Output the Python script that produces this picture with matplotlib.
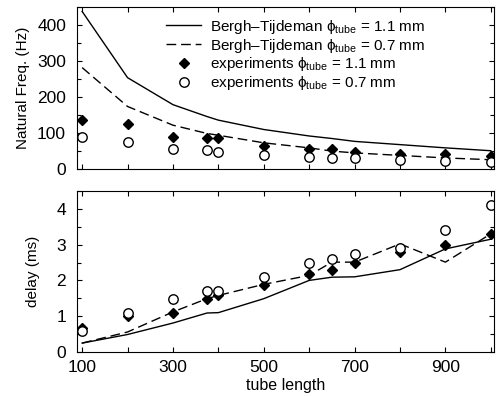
import matplotlib
matplotlib.use("Agg")
import matplotlib.pyplot as plt
from matplotlib.ticker import MultipleLocator
from matplotlib.legend_handler import HandlerLine2D

plt.rcParams['font.family'] = ['Liberation Sans', 'DejaVu Sans']
plt.rcParams['mathtext.fontset'] = 'custom'
plt.rcParams['mathtext.rm'] = 'Liberation Sans'
plt.rcParams['mathtext.it'] = 'Liberation Sans:italic'
plt.rcParams['font.size'] = 11

# tube lengths
length = [100, 200, 300, 375, 400, 500, 600, 650, 700, 800, 900, 1000]

# natural frequency (Hz)
freq_bt11 = [438, 254, 179, 146, 136, 110, 92, 85, 77, 68, 59, 51]
freq_bt07 = [282, 174, 122, 99, 94, 73, 59, 50, 45, 38, 31, 26]
freq_exp11 = [137, 124, 88, 87, 85, 63, 56, 56, 48, 43, 41, 36]
freq_exp07 = [88, 75, 56, 54, 47, 40, 33, 31, 30, 25, 22, 21]

# delay (ms)
delay_bt11 = [0.25, 0.49, 0.81, 1.09, 1.1, 1.49, 2.0, 2.09, 2.1, 2.3, 2.88, 3.15]
delay_bt07 = [0.25, 0.56, 1.12, 1.49, 1.58, 1.89, 2.14, 2.51, 2.51, 3.02, 2.51, 3.3]
delay_exp11 = [0.67, 1.0, 1.1, 1.48, 1.58, 1.88, 2.19, 2.28, 2.5, 2.79, 3.0, 3.3]
delay_exp07 = [0.58, 1.1, 1.49, 1.7, 1.7, 2.09, 2.5, 2.6, 2.73, 2.9, 3.4, 4.1]

xticks = [100, 200, 300, 400, 500, 600, 700, 800, 900, 1000]
xticklabels = ['100', '', '300', '', '500', '', '700', '', '900', '']

lab_bt11 = r'Bergh–Tijdeman $\mathrm{ϕ}_{\rm tube}$ = 1.1 mm'
lab_bt07 = r'Bergh–Tijdeman $\mathrm{ϕ}_{\rm tube}$ = 0.7 mm'
lab_exp11 = r'experiments $\mathrm{ϕ}_{\rm tube}$ = 1.1 mm'
lab_exp07 = r'experiments $\mathrm{ϕ}_{\rm tube}$ = 0.7 mm'


class RightMarker(HandlerLine2D):
    # put the marker at the right end of the key sample, like gnuplot
    def get_xdata(self, legend, xdescent, ydescent, width, height, fontsize):
        return [-xdescent, -xdescent + width], [-xdescent + width - 0.1 * fontsize]


fig = plt.figure(figsize=(5.01, 3.96), dpi=100)
ax1 = fig.add_axes([0.154, 0.573, 0.832, 0.409])
ax2 = fig.add_axes([0.154, 0.111, 0.832, 0.407])


def draw(ax, bt11, bt07, e11, e07):
    ax.plot(length, bt11, '-', color='black', lw=1.0, label=lab_bt11)
    ax.plot(length, bt07, '--', color='black', lw=1.0, dashes=(7, 3.5), label=lab_bt07)
    m1, = ax.plot(length, e11, 'D', color='black', ms=5.5, ls='none', label=lab_exp11)
    m2, = ax.plot(length, e07, 'o', mfc='white', mec='black', mew=1.0, ms=6.8, ls='none', label=lab_exp07)
    ax.set_xlim(89, 1007)
    ax.set_xticks(xticks)
    ax.tick_params(which='both', direction='in', top=True, right=True, width=0.8, labelsize=12.5)
    ax.tick_params(which='major', length=3.5)
    ax.tick_params(which='minor', length=3.0)
    ax.tick_params(axis='y', pad=8)
    ax.tick_params(axis='x', pad=6)
    for s in ax.spines.values():
        s.set_linewidth(0.8)
    return m1, m2


m1, m2 = draw(ax1, freq_bt11, freq_bt07, freq_exp11, freq_exp07)
ax1.set_ylim(0, 450)
ax1.yaxis.set_major_locator(MultipleLocator(100))
ax1.yaxis.set_minor_locator(MultipleLocator(50))
ax1.set_xticklabels([])
ax1.set_ylabel('Natural Freq. (Hz)', fontsize=11, labelpad=5)
ax1.legend(loc='upper left', bbox_to_anchor=(0.188, 1.0), frameon=False,
           handlelength=2.3, handletextpad=0.55, labelspacing=0.05,
           borderaxespad=0.3, numpoints=1, fontsize=11,
           handler_map={m1: RightMarker(), m2: RightMarker()})

draw(ax2, delay_bt11, delay_bt07, delay_exp11, delay_exp07)
ax2.set_ylim(0, 4.5)
ax2.yaxis.set_major_locator(MultipleLocator(1))
ax2.yaxis.set_minor_locator(MultipleLocator(0.5))
ax2.set_xticklabels(xticklabels)
ax2.set_ylabel('delay (ms)', fontsize=11, labelpad=12)
ax2.set_xlabel('tube length', fontsize=11.5, labelpad=2)

fig.savefig('out.png', dpi=100)
